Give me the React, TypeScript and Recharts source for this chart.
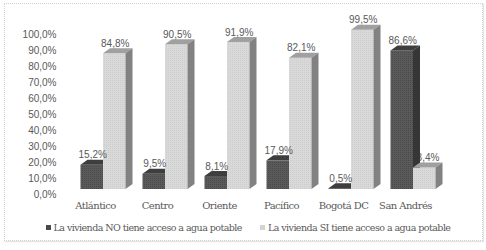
import { Bar, BarChart, LabelList, Legend, XAxis, YAxis } from 'recharts';

const regions = ['Atlántico', 'Centro', 'Oriente', 'Pacífico', 'Bogotá DC', 'San  Andrés'];
const noAccess = [15.2, 9.5, 8.1, 17.9, 0.5, 86.6];
const withAccess = [84.8, 90.5, 91.9, 82.1, 99.5, 13.4];
const yTicks = [0, 10, 20, 30, 40, 50, 60, 70, 80, 90, 100];

const seriesNames = [
    'La vivienda NO tiene acceso a agua potable',
    'La vivienda SI tiene acceso a agua potable',
];

const data = regions.map((region, i) => ({
    region,
    no: noAccess[i],
    si: withAccess[i],
}));

const fmt = (v: number) => `${v.toFixed(1).replace('.', ',')}%`;

const SERIF = "'DejaVu Serif'";
const SANS = "'Liberation Sans'";

// fake 3D: front shifted up a bit, depth goes right/up
const LIFT = 5;
const DX = 7;
const DY = 5;

const palette = {
    dark: { front: 'url(#texDark)', top: '#3e3e3e', side: '#363636', swatch: '#4a4a4a' },
    light: { front: 'url(#texLight)', top: '#a0a0a0', side: '#828282', swatch: '#d4d4d4' },
};

function Box3D(props: any, tone: 'dark' | 'light') {
    const { x, y, width: w, height: h } = props;
    const c = palette[tone];
    const t = y - LIFT;
    return (
        <g>
            <rect x={x} y={t} width={w} height={Math.max(h, 0)} fill={c.front} />
            <polygon
                points={`${x},${t} ${x + DX},${t - DY} ${x + w + DX},${t - DY} ${x + w},${t}`}
                fill={c.top}
            />
            <polygon
                points={`${x + w},${t} ${x + w + DX},${t - DY} ${x + w + DX},${t - DY + h} ${x + w},${t + h}`}
                fill={c.side}
            />
        </g>
    );
}

function ValueLabel(props: any, hideBehindLeft: boolean) {
    const { x, y, width, value, index } = props;
    const cx = x + width / 2 + 1;
    const cy = y - LIFT - DY - 5;
    const hidden = hideBehindLeft && noAccess[index] > withAccess[index];
    const clipId = `clip-lbl-${index}`;
    return (
        <g>
            {hidden && (
                <defs>
                    <clipPath id={clipId}>
                        <rect x={x + DX} y={cy - 10} width={60} height={20} />
                    </clipPath>
                </defs>
            )}
            <text
                x={cx}
                y={cy}
                dy="0.355em"
                textAnchor="middle"
                fontSize={10}
                fontFamily={SANS}
                fill="#595959"
                clipPath={hidden ? `url(#${clipId})` : undefined}
            >
                {fmt(value)}
            </text>
        </g>
    );
}

function LegendBox() {
    const items = [palette.dark.swatch, palette.light.swatch];
    return (
        <div
            style={{
                display: 'flex',
                justifyContent: 'center',
                gap: 18,
                paddingLeft: 10,
                fontFamily: SERIF,
                fontSize: 9.5,
                letterSpacing: -0.55,
                color: '#595959',
            }}
        >
            {items.map((fill, i) => (
                <div key={i} style={{ display: 'flex', alignItems: 'center', gap: 3 }}>
                    <span style={{ width: 5, height: 5, background: fill, display: 'inline-block' }} />
                    <span>{seriesNames[i]}</span>
                </div>
            ))}
        </div>
    );
}

export default function App() {
    return (
        <div style={{ position: 'relative', width: 486, height: 250, background: '#fff' }}>
            <style>{'body{margin:0}'}</style>
            <svg width={0} height={0} style={{ position: 'absolute' }}>
                <defs>
                    <pattern id="texDark" width={2} height={2} patternUnits="userSpaceOnUse">
                        <rect width={2} height={2} fill="#5a5a5a" />
                        <rect width={1} height={1} fill="#4a4a4a" />
                    </pattern>
                    <pattern id="texLight" width={2} height={2} patternUnits="userSpaceOnUse">
                        <rect width={2} height={2} fill="#d9d9d9" />
                        <rect width={1} height={1} fill="#cdcdcd" />
                    </pattern>
                </defs>
            </svg>
            <div
                style={{
                    position: 'absolute',
                    left: 4,
                    top: 3,
                    width: 477,
                    height: 236,
                    border: '1px dotted #cfcfcf',
                    boxShadow: '1px 1px 1px #e4e4e4',
                }}
            />
            <BarChart
                width={486}
                height={250}
                data={data}
                margin={{ top: 34, right: 42.5, left: 0, bottom: 26 }}
                barGap={0}
                barSize={22.5}
                style={{ position: 'absolute', left: 0, top: 0 }}
            >
                <XAxis
                    dataKey="region"
                    axisLine={false}
                    tickLine={false}
                    height={30}
                    interval={0}
                    tick={{
                        fill: '#595959',
                        fontSize: 10,
                        fontFamily: SERIF,
                        letterSpacing: -0.55,
                        dx: -7,
                        style: { whiteSpace: 'pre' },
                    }}
                />
                <YAxis
                    domain={[0, 100]}
                    ticks={yTicks}
                    interval={0}
                    width={71.5}
                    axisLine={false}
                    tickLine={false}
                    tickSize={0}
                    tickMargin={15}
                    tickFormatter={fmt}
                    tick={{ fill: '#595959', fontSize: 10, fontFamily: SANS }}
                />
                <Legend
                    layout="horizontal"
                    verticalAlign="middle"
                    align="center"
                    content={<LegendBox />}
                    wrapperStyle={{ top: 222, left: 0, width: 486 }}
                />
                <Bar
                    dataKey="no"
                    name={seriesNames[0]}
                    isAnimationActive={false}
                    shape={(p: any) => Box3D(p, 'dark')}
                >
                    <LabelList dataKey="no" content={(p: any) => ValueLabel(p, false)} />
                </Bar>
                <Bar
                    dataKey="si"
                    name={seriesNames[1]}
                    isAnimationActive={false}
                    shape={(p: any) => Box3D(p, 'light')}
                >
                    <LabelList dataKey="si" content={(p: any) => ValueLabel(p, true)} />
                </Bar>
            </BarChart>
        </div>
    );
}
